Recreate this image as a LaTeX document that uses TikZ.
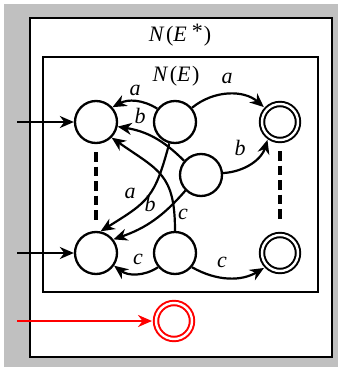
\documentclass[tikz,border=0pt]{standalone}
\usepackage{fontspec}
\setmainfont{Liberation Serif}
\usetikzlibrary{arrows.meta}
\definecolor{bggray}{RGB}{192,192,192}
\begin{document}
\begin{tikzpicture}[x=1pt,y=-1pt,
  font=\fontsize{22}{26}\selectfont,
  state/.style={circle,draw,line width=2.3pt,minimum size=42pt,inner sep=0pt},
  accept/.style={circle,draw,line width=2pt,double,double distance=2.4pt,minimum size=36pt,inner sep=0pt},
  tr/.style={line width=2.2pt,-{Stealth[length=14pt,width=12pt,inset=4.5pt]}},
  lbl/.style={font=\fontsize{22}{26}\selectfont\itshape,inner sep=0pt},
  box/.style={draw,line width=2.8pt},
  dashline/.style={line width=4pt,dash pattern=on 9.5pt off 5pt}]
\useasboundingbox (0,0) rectangle (338,367);
\fill[bggray] (4,4) rectangle (338,367);
\draw[box,fill=white] (30,18) rectangle (332,357);
\draw[box] (43,57) rectangle (318,292);
\node (outer) at (180,35) {\textit{N}\hspace{1.5pt}(\textit{E}\hspace{5pt}\raisebox{3pt}{*}\hspace{1pt})};
\node (inner) at (176,76) {\textit{N}\hspace{1.5pt}(\textit{E}\hspace{1.5pt})};
% states
\node[state] (LT) at (96,122) {};
\node[state] (MT) at (175,122) {};
\node[accept] (RT) at (280,122) {};
\node[state] (M) at (201,175) {};
\node[state] (LB) at (96,253) {};
\node[state] (MB) at (175,253) {};
\node[accept] (RB) at (280,253) {};
\node[accept,draw=red] (R) at (174,321) {};
% start arrows
\coordinate (s1) at (17,122);
\coordinate (s2) at (17,253);
\coordinate (s3) at (17,321);
\draw[tr] (s1) -- (LT);
\draw[tr] (s2) -- (LB);
\draw[tr,red,shorten >=3pt] (s3) -- (R);
% dashed
\draw[dashline] ([yshift=-8pt]LT.south) -- ([yshift=9pt]LB.north);
\draw[dashline] ([yshift=-10pt]RT.south) -- ([yshift=11pt]RB.north);
% transitions
\draw[tr] (MT.143) to[bend right=30] (LT.42);
\draw[tr] (M.140) to[bend right=18] (LT.-12);
\draw[tr,shorten >=3pt] (MT.40) to[bend left=40] (RT.137);
\draw[tr,shorten >=3pt] (M.5) to[bend right=35] (RT.-128);
\draw[tr] (MT.-105) to[out=-105,in=32,looseness=1.3] (LB.78);
\draw[tr] (M.225) to[bend left=15] (LB.38);
\draw[tr] (MB.90) to[out=90,in=-35,looseness=1.3] (LT.-45);
\draw[tr] (MB.220) to[bend left=35] (LB.-35);
\draw[tr,shorten >=3pt] (MB.-40) to[bend right=30] (RB.-135);
% labels
\node[lbl] (la1) at (135,90) {a};
\node[lbl] (lb1) at (140,116) {b};
\node[lbl] (la2) at (227,78) {a};
\node[lbl] (lb2) at (240,148) {b};
\node[lbl] (la3) at (130,193) {a};
\node[lbl] (lb3) at (150,204) {b};
\node[lbl] (lc1) at (183,214) {c};
\node[lbl] (lc2) at (138,259) {c};
\node[lbl] (lc3) at (222,262) {c};
\end{tikzpicture}
\end{document}
